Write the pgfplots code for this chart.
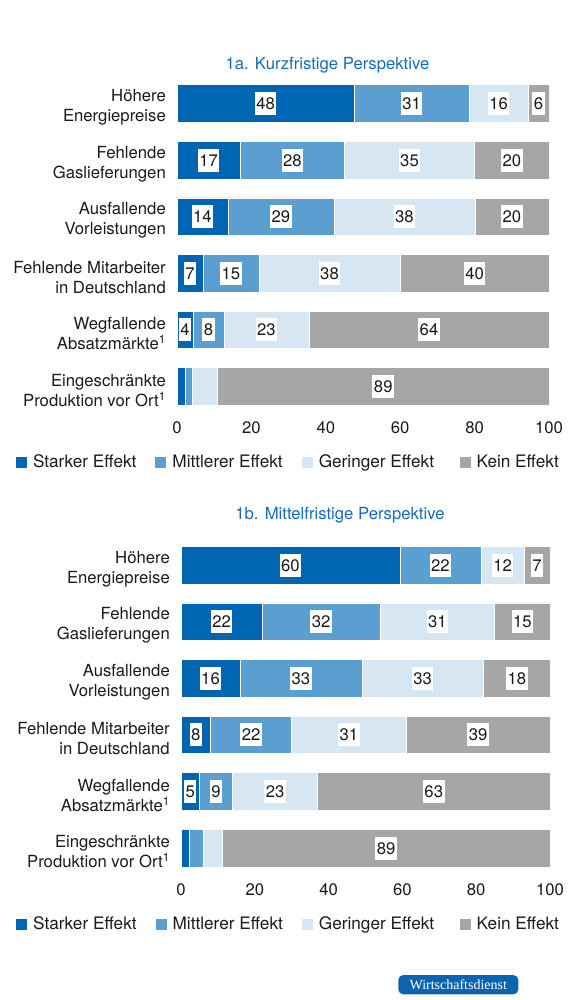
\documentclass[border=0pt]{standalone}
\usepackage{fontspec}
\setmainfont{TeX Gyre Heros}
\newfontfamily\seriffont{Liberation Serif}
\usepackage{pgfplots}
\pgfplotsset{compat=1.18}
\usepackage{pgfplotstable}

\definecolor{cA}{RGB}{0,102,179}
\definecolor{cB}{RGB}{91,159,209}
\definecolor{cC}{RGB}{214,231,243}
\definecolor{cD}{RGB}{166,166,166}
\definecolor{ctitle}{RGB}{20,108,184}
\definecolor{caxis}{RGB}{200,200,200}
\definecolor{ctext}{RGB}{26,26,26}
\definecolor{clogo}{RGB}{10,100,175}

% 1a. Kurzfristige Perspektive
% A..D: bar lengths as drawn; a..d: printed labels (0 = no label)
\pgfplotstableread{
y A B C D a b c d
0 47.6 30.9 15.9 5.6 48 31 16 6
1 17 28 35 20 17 28 35 20
2 13.7 28.5 37.9 19.9 14 29 38 20
3 7 15 38 40 7 15 38 40
4 4.3 8.3 22.9 64.5 4 8 23 64
5 2.2 1.8 6.9 89.1 0 0 0 89
}\tabshort

% 1b. Mittelfristige Perspektive
\pgfplotstableread{
y A B C D a b c d
0 59.3 22 11.7 7 60 22 12 7
1 22 32 31 15 22 32 31 15
2 16 33 33 18 16 33 33 18
3 8 22 31 39 8 22 31 39
4 5 9 23 63 5 9 23 63
5 2.3 3.6 5.3 88.8 0 0 0 89
}\tabmid

\setlength{\fboxsep}{1.5bp}

\pgfplotsset{
  seg/.style={
    visualization depends on={\thisrow{#1}\as\lab},
    legend image code/.code={\fill[##1] (0bp,-6bp) rectangle (12bp,6bp);},
  },
  mybase/.style={
    xbar stacked,
    scale only axis,
    height=339.6bp,
    xmin=0, xmax=100,
    ymin=-0.5, ymax=5.5,
    y dir=reverse,
    bar width=37.5bp,
    xtick={0,20,...,100},
    ytick={0,...,5},
    yticklabels={
      {Höhere\\Energiepreise},
      {Fehlende\\Gaslieferungen},
      {Ausfallende\\Vorleistungen},
      {Fehlende Mitarbeiter\\in Deutschland},
      {Wegfallende\\Absatzmärkte\textsuperscript{1}},
      {Eingeschränkte\\Produktion vor Ort\textsuperscript{1}}},
    major tick length=0pt,
    axis line style={draw=none},
    /pgf/number format/assume math mode=true,
    every tick label/.append style={text=ctext},
    yticklabel style={align=right, inner sep=0pt, xshift=-11bp, yshift=-4bp,
      font=\fontsize{16.7bp}{20bp}\selectfont},
    xticklabel style={inner sep=0pt, yshift=-7bp},
    point meta=explicit,
    nodes near coords={\ifdim\lab pt>0.5pt\relax\colorbox{white}{\rule[-4bp]{0pt}{20bp}\pgfmathprintnumber{\lab}}\fi},
    every node near coord/.append style={anchor=center, inner sep=0pt, text=ctext},
    legend style={draw=none, fill=none, legend columns=4, anchor=west,
      text=ctext, font=\fontsize{17.2bp}{20bp}\selectfont,
      /tikz/every odd column/.append style={column sep=3.5bp},
      /tikz/every even column/.append style={column sep=16bp}},
  },
}

\begin{document}
\fontsize{16.7bp}{19.5bp}\selectfont
\begin{tikzpicture}
\path[use as bounding box] (0,0) rectangle (587bp,1000bp);

\node[anchor=base, text=ctitle] at (327.5bp,930.7bp) {1a. Kurzfristige Perspektive};
\node[anchor=base, text=ctitle] at (340bp,480bp) {1b. Mittelfristige Perspektive};

\begin{axis}[mybase,
  at={(177bp,585.2bp)}, anchor=south west,
  width=372bp,
  legend style={at={(-0.444,-0.139)}},
]
\draw[caxis, line width=2bp] ([xshift=-1bp]rel axis cs:0,0) -- ([xshift=-1bp]rel axis cs:0,1);
\addplot[fill=cA, draw=white, line width=0.5bp, seg=a] table[x=A, y=y, meta=a] {\tabshort};
\addplot[fill=cB, draw=white, line width=0.5bp, seg=b] table[x=B, y=y, meta=b] {\tabshort};
\addplot[fill=cC, draw=white, line width=0.5bp, seg=c] table[x=C, y=y, meta=c] {\tabshort};
\addplot[fill=cD, draw=white, line width=0.5bp, seg=d] table[x=D, y=y, meta=d] {\tabshort};
\legend{Starker Effekt, Mittlerer Effekt, Geringer Effekt\hspace*{6.5bp}, Kein Effekt}
\end{axis}

\begin{axis}[mybase,
  at={(181bp,123.7bp)}, anchor=south west,
  width=369bp,
  legend style={at={(-0.458,-0.1405)}},
]
\draw[caxis, line width=2bp] ([xshift=-1bp]rel axis cs:0,0) -- ([xshift=-1bp]rel axis cs:0,1);
\addplot[fill=cA, draw=white, line width=0.5bp, seg=a] table[x=A, y=y, meta=a] {\tabmid};
\addplot[fill=cB, draw=white, line width=0.5bp, seg=b] table[x=B, y=y, meta=b] {\tabmid};
\addplot[fill=cC, draw=white, line width=0.5bp, seg=c] table[x=C, y=y, meta=c] {\tabmid};
\addplot[fill=cD, draw=white, line width=0.5bp, seg=d] table[x=D, y=y, meta=d] {\tabmid};
\legend{Starker Effekt, Mittlerer Effekt, Geringer Effekt\hspace*{6.5bp}, Kein Effekt}
\end{axis}

\node[fill=clogo, rounded corners=5bp, minimum width=120bp, minimum height=19.3bp,
      inner sep=0pt, text=white, font=\seriffont\fontsize{14bp}{16bp}\selectfont]
  at (458.3bp,15.3bp) {Wirtschaftsdienst};
\end{tikzpicture}
\end{document}
